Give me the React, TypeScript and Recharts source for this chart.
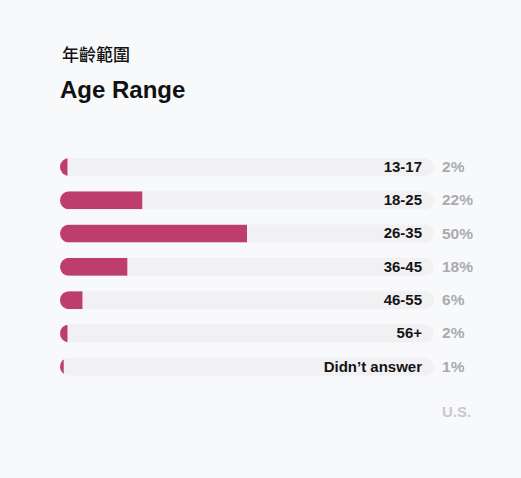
import React from 'react';
import { BarChart, Bar, XAxis, YAxis } from 'recharts';

const categories = ['13-17', '18-25', '26-35', '36-45', '46-55', '56+', 'Didn’t answer'];
const shares = [2, 22, 50, 18, 6, 2, 1];
const region = 'U.S.';
const titleZh = '年齡範圍';
const titleEn = 'Age Range';

const PINK = '#bd3e6d';
const TRACK = '#f1f1f3';
const BG = '#f8f9fb';
const FONT = '"Liberation Sans", Arial, Helvetica, sans-serif';

const data = categories.map((name, i) => ({ name, value: shares[i] }));

const FillShape = (props: any) => {
  const { x, y, width, height, index, value, background } = props;
  const v = Array.isArray(value) ? value[1] - value[0] : value;
  const bg = background && background.width ? background : { x, y, width: (width * 100) / (v || 1), height };
  const r = height / 2;
  const id = `trackclip-${index}`;
  return (
    <g>
      <defs>
        <clipPath id={id}>
          <rect x={bg.x} y={bg.y} width={bg.width} height={bg.height} rx={r} ry={r} />
        </clipPath>
      </defs>
      <rect x={x} y={y} width={width} height={height} fill={PINK} clipPath={`url(#${id})`} />
    </g>
  );
};

const RightTick = (props: any) => {
  const { x, y, payload, index } = props;
  return (
    <g>
      <text x={x - 20} y={y} dy="0.35em" textAnchor="end" fontFamily={FONT} fontWeight={700} fontSize={15} fill="#141414">
        {payload.value}
      </text>
      <text x={x} y={y} dy="0.35em" textAnchor="start" fontFamily={FONT} fontWeight={700} fontSize={15.5} fill="#ababaf">
        {shares[index]}%
      </text>
    </g>
  );
};

export default function App() {
  return (
    <div style={{ position: 'absolute', left: 0, top: 0, width: 521, height: 478, background: BG, overflow: 'hidden' }}>
      <div
        style={{
          position: 'absolute',
          left: 62,
          top: 44,
          fontFamily: '"Noto Sans CJK TC", "Noto Sans CJK SC", sans-serif',
          fontSize: 17,
          lineHeight: '20px',
          fontWeight: 500,
          color: '#111',
        }}
      >
        {titleZh}
      </div>
      <div
        style={{
          position: 'absolute',
          left: 60,
          top: 78,
          fontFamily: FONT,
          fontSize: 24,
          lineHeight: '24px',
          fontWeight: 700,
          color: '#111',
        }}
      >
        {titleEn}
      </div>
      <div style={{ position: 'absolute', left: 0, top: 0 }}>
        <BarChart
          width={521}
          height={478}
          data={data}
          layout="vertical"
          margin={{ top: 150, bottom: 95, left: 60, right: 0 }}
          barSize={18}
        >
          <XAxis type="number" domain={[0, 100]} hide />
          <YAxis
            type="category"
            dataKey="name"
            orientation="right"
            width={87}
            axisLine={false}
            tickLine={false}
            tick={<RightTick />}
            interval={0}
          />
          <Bar
            dataKey="value"
            isAnimationActive={false}
            background={{ fill: TRACK, radius: 9 } as any}
            shape={<FillShape />}
          />
        </BarChart>
      </div>
      <div
        style={{
          position: 'absolute',
          left: 442,
          top: 404,
          fontFamily: FONT,
          fontSize: 15,
          lineHeight: '15px',
          fontWeight: 700,
          color: '#cacace',
        }}
      >
        {region}
      </div>
    </div>
  );
}
